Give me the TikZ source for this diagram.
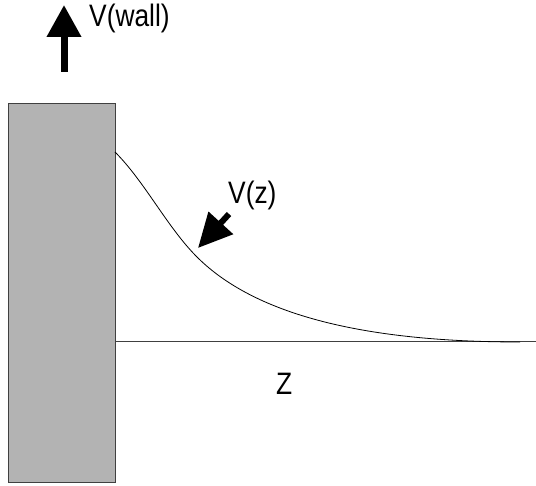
\documentclass[tikz,border=0pt]{standalone}
\usepackage{fontspec}
\setmainfont{Liberation Sans}[FakeStretch=0.85]
\usetikzlibrary{arrows.meta}
\definecolor{wallgray}{HTML}{B3B3B3}
\definecolor{edgegray}{HTML}{404040}
\tikzset{
  lbl/.style={inner sep=0pt, anchor=base west, font=\fontsize{31}{31}\selectfont},
  bigarrow/.style={line width=7pt, -{Triangle[length=32pt,width=33pt]}},
  wall/.style={fill=wallgray, draw=edgegray, line width=1pt},
  axis/.style={draw=edgegray, line width=1pt},
  pot/.style={draw=black, line width=0.8pt}
}
\begin{document}
\begin{tikzpicture}[x=1pt,y=-1pt]
\useasboundingbox (0,0) rectangle (536,486);
% wall
\draw[wall] (8,104) rectangle (115,483);
% axis
\coordinate (axl) at (115,342);
\coordinate (axr) at (536,342);
\draw[axis] (axl) -- (axr);
% potential curve
\coordinate (c0) at (115,152);
\coordinate (c1) at (197,257);
\coordinate (c2) at (520,342);
\draw[pot] (c0) .. controls (145,182) and (167,227) .. (c1)
  .. controls (257,317) and (370,342) .. (c2);
% wall velocity arrow
\coordinate (wt) at (64,72);
\coordinate (wh) at (64,5);
\draw[bigarrow] (wt) -- (wh);
\node[lbl] (vwall) at (89,27) {V(wall)};
% V(z) arrow
\coordinate (zt) at (229,214);
\coordinate (zh) at (198,248);
\draw[bigarrow, line width=6pt, -{Triangle[length=34pt,width=32pt]}] (zt) -- (zh);
\node[lbl] (vz) at (228,204) {V(z)};
% Z label
\node[lbl] (zl) at (276,395) {Z};
\end{tikzpicture}
\end{document}
